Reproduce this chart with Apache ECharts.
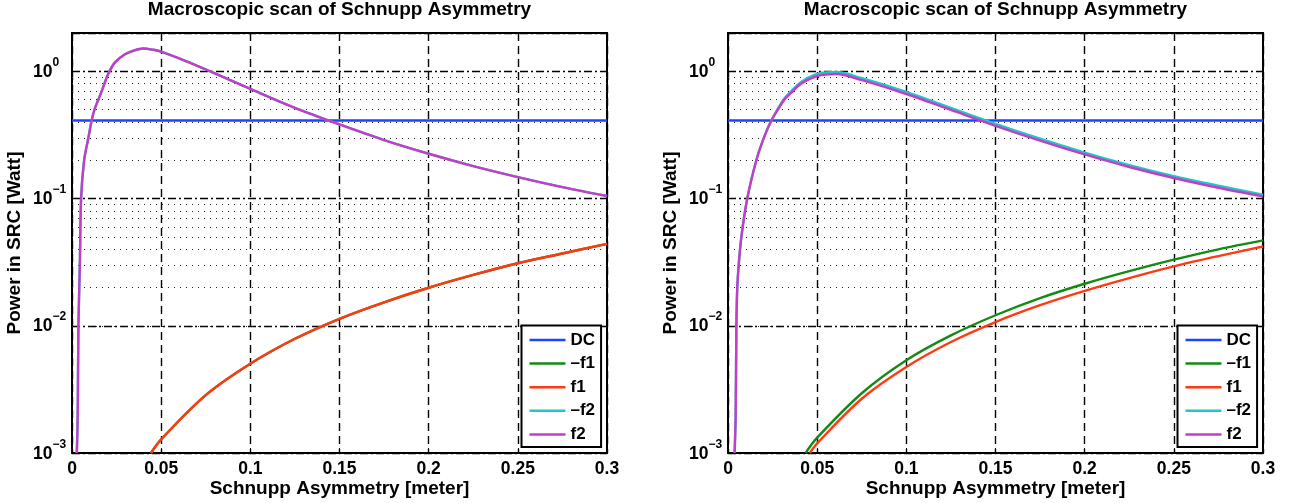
<!DOCTYPE html>
<html>
<head>
<meta charset="utf-8">
<script src="https://cdn.jsdelivr.net/npm/echarts@6/dist/echarts.min.js"></script>
<style>
  html, body { margin: 0; padding: 0; background: #ffffff; }
  #chart { width: 1299px; height: 503px; }
</style>
</head>
<body>
<div id="chart"></div>
<script>
// ---- axis ticks ----
const xTickLabels = ['0', '0.05', '0.1', '0.15', '0.2', '0.25', '0.3'];
const yTickExponents = ['\u22123', '\u22122', '\u22121', '0'];
const minorGridValues = [
  0.002, 0.003, 0.004, 0.005, 0.006, 0.007, 0.008, 0.009,
  0.02, 0.03, 0.04, 0.05, 0.06, 0.07, 0.08, 0.09,
  0.2, 0.3, 0.4, 0.5, 0.6, 0.7, 0.8, 0.9
];

// ---- legend / series names ----
const seriesNames = ['DC', '\u2013f1', 'f1', '\u2013f2', 'f2'];

// ---- left panel: power [W] vs Schnupp asymmetry [m] ----
const leftDcX = [0, 0.3];
const leftDcY = [0.41, 0.41];
// f1 and -f1 lie on top of each other here
const leftF1X = [0.0443, 0.05, 0.075, 0.1, 0.125, 0.15, 0.175, 0.2, 0.225, 0.25, 0.275, 0.3];
const leftF1Y = [0.001, 0.00128, 0.00285, 0.00503, 0.0079, 0.01135, 0.0153, 0.0199, 0.0251, 0.031, 0.037, 0.044];
// f2 and -f2 lie on top of each other here
const leftF2X = [0.0027, 0.0032, 0.0036, 0.0044, 0.0051, 0.0068, 0.0092, 0.011, 0.0126, 0.0148, 0.0167, 0.0182,
                 0.0204, 0.024, 0.0297, 0.035, 0.040, 0.045, 0.0495, 0.0635, 0.0775, 0.1, 0.125, 0.15, 0.175,
                 0.2, 0.225, 0.25, 0.275, 0.3];
const leftF2Y = [0.001, 0.002, 0.01, 0.03, 0.1, 0.2, 0.3, 0.41, 0.5, 0.6, 0.7, 0.8,
                 0.96, 1.17, 1.36, 1.46, 1.51, 1.48, 1.435, 1.21, 1.0, 0.727, 0.516, 0.382, 0.288,
                 0.225, 0.180, 0.1475, 0.123, 0.1046];

// ---- right panel ----
const rightDcX = [0, 0.3];
const rightDcY = [0.41, 0.41];
const rightMinusF1X = [0.0435, 0.05, 0.075, 0.1, 0.125, 0.15, 0.175, 0.2, 0.225, 0.25, 0.275, 0.3];
const rightMinusF1Y = [0.001, 0.00132, 0.00295, 0.00536, 0.0084, 0.0121, 0.0165, 0.0214, 0.0269, 0.0331, 0.0399, 0.0469];
const rightF1X = [0.0459, 0.05, 0.075, 0.1, 0.125, 0.15, 0.175, 0.2, 0.225, 0.25, 0.275, 0.3];
const rightF1Y = [0.001, 0.00119, 0.00267, 0.00475, 0.00746, 0.0107, 0.0145, 0.0188, 0.0237, 0.0293, 0.0353, 0.042];
const rightF2X = [0.0037, 0.0043, 0.0047, 0.0052, 0.0060, 0.0075, 0.0108, 0.0159, 0.0201, 0.0243, 0.028, 0.0317,
                  0.0364, 0.041, 0.05, 0.0607, 0.0747, 0.1, 0.125, 0.15, 0.175, 0.2, 0.225, 0.25, 0.275, 0.3];
const rightMinusF2Y = [0.001, 0.002, 0.01, 0.02, 0.03, 0.05, 0.1, 0.2, 0.3, 0.41, 0.51, 0.615,
                       0.72, 0.825, 0.953, 0.987, 0.886, 0.688, 0.515, 0.386, 0.295, 0.2296, 0.1832, 0.150, 0.126, 0.107];
const rightF2Y = [0.001, 0.002, 0.01, 0.02, 0.03, 0.05, 0.1, 0.2, 0.3, 0.41, 0.5, 0.6,
                  0.7, 0.8, 0.919, 0.953, 0.855, 0.663, 0.497, 0.373, 0.285, 0.222, 0.177, 0.145, 0.1216, 0.104];

// ---- styling ----
const FONT = '"Liberation Sans", Arial, Helvetica, sans-serif';
const lineColors = ['#1a46ff', '#138a13', '#ff3a12', '#1ec8c8', '#c43cc8'];
const panelTitle = 'Macroscopic scan of Schnupp Asymmetry';
const xName = 'Schnupp Asymmetry [meter]';
const yName = 'Power in SRC [Watt]';

function zip(xs, ys) { return xs.map((x, i) => [x, ys[i]]); }

const panels = [
  { grid: { left: 72, top: 33, width: 535, height: 420 },
    data: [zip(leftDcX, leftDcY), zip(leftF1X, leftF1Y), zip(leftF1X, leftF1Y), zip(leftF2X, leftF2Y), zip(leftF2X, leftF2Y)] },
  { grid: { left: 728, top: 33, width: 535, height: 420 },
    data: [zip(rightDcX, rightDcY), zip(rightMinusF1X, rightMinusF1Y), zip(rightF1X, rightF1Y), zip(rightF2X, rightMinusF2Y), zip(rightF2X, rightF2Y)] }
];

const chart = echarts.init(document.getElementById('chart'), null, { renderer: 'canvas' });

const grids = [], xAxes = [], yAxes = [], series = [], legends = [], graphics = [];

panels.forEach((p, k) => {
  const g = p.grid;
  const cx = g.left + g.width / 2;
  grids.push(Object.assign({ show: true, borderColor: '#000', borderWidth: 2, backgroundColor: '#fff' }, g));

  xAxes.push({
    gridIndex: k, type: 'value', min: 0, max: 0.3, interval: 0.05,
    axisLine: { show: true, lineStyle: { color: '#000', width: 2 } },
    axisTick: { show: true, inside: true, length: 5, lineStyle: { color: '#000', width: 1 } },
    splitLine: { show: true, lineStyle: { color: '#000', width: 1.4, type: [8, 5] } },
    axisLabel: {
      margin: 8, color: '#000', fontFamily: FONT, fontSize: 17.5, fontWeight: 'bold', lineHeight: 17,
      formatter: v => xTickLabels[Math.round(v / 0.05)] ?? ''
    }
  });

  yAxes.push({
    gridIndex: k, type: 'log', logBase: 10, min: 0.001, max: 2,
    axisLine: { show: true, lineStyle: { color: '#000', width: 2 } },
    axisTick: { show: true, inside: true, length: 5, lineStyle: { color: '#000', width: 1 } },
    splitLine: { show: true, lineStyle: { color: '#000', width: 1.4, type: [8, 3, 2, 3] } },
    axisLabel: {
      margin: 39, align: 'left', color: '#000', showMaxLabel: false,
      formatter: v => {
        const e = Math.log10(v);
        const n = Math.round(e);
        if (Math.abs(e - n) > 1e-6 || n < -3 || n > 0) return '';
        return '{b|10}{s|' + yTickExponents[n + 3] + '}';
      },
      rich: {
        b: { fontFamily: FONT, fontSize: 17.5, fontWeight: 'bold', color: '#000', padding: [6.5, 0, 5, 0] },
        s: { fontFamily: FONT, fontSize: 12, fontWeight: 'bold', color: '#000', verticalAlign: 'top' }
      }
    }
  });

  // dotted minor grid at 2..9 of each decade
  series.push({
    type: 'line', xAxisIndex: k, yAxisIndex: k, data: [], silent: true, z: 1,
    markLine: {
      silent: true, symbol: ['none', 'none'], z: 1, animation: false,
      label: { show: false },
      lineStyle: { color: '#222', width: 1, type: [1, 5] },
      data: minorGridValues.map(v => ({ yAxis: v }))
    }
  });

  seriesNames.forEach((name, i) => {
    series.push({
      name, type: 'line', xAxisIndex: k, yAxisIndex: k,
      data: p.data[i], showSymbol: false, symbol: 'none', smooth: 0.33,
      z: 2 + i, animation: false,
      lineStyle: { color: lineColors[i], width: 2.4 },
      itemStyle: { color: lineColors[i] }
    });
  });

  legends.push({
    data: seriesNames, orient: 'vertical', left: g.left + 449.5, top: 325.5,
    selectedMode: false, icon: 'rect', itemWidth: 36, itemHeight: 2.5, itemGap: 6.6,
    padding: [6, 6, 4, 8], backgroundColor: '#fff', borderColor: '#000', borderWidth: 2,
    textStyle: { fontFamily: FONT, fontSize: 17, fontWeight: 'bold', color: '#000' }
  });

  graphics.push(
    { type: 'text', x: cx, y: 9.5, style: { text: panelTitle, font: 'bold 19px ' + FONT, fill: '#000', align: 'center', verticalAlign: 'middle' } },
    { type: 'text', x: cx, y: 488.5, style: { text: xName, font: 'bold 19px ' + FONT, fill: '#000', align: 'center', verticalAlign: 'middle' } },
    { type: 'text', x: g.left - 57, y: g.top + g.height / 2, rotation: Math.PI / 2,
      style: { text: yName, font: 'bold 19px ' + FONT, fill: '#000', align: 'center', verticalAlign: 'middle' } }
  );
});

chart.setOption({
  animation: false,
  backgroundColor: '#fff',
  grid: grids, xAxis: xAxes, yAxis: yAxes, series, legend: legends, graphic: graphics
});
</script>
</body>
</html>
